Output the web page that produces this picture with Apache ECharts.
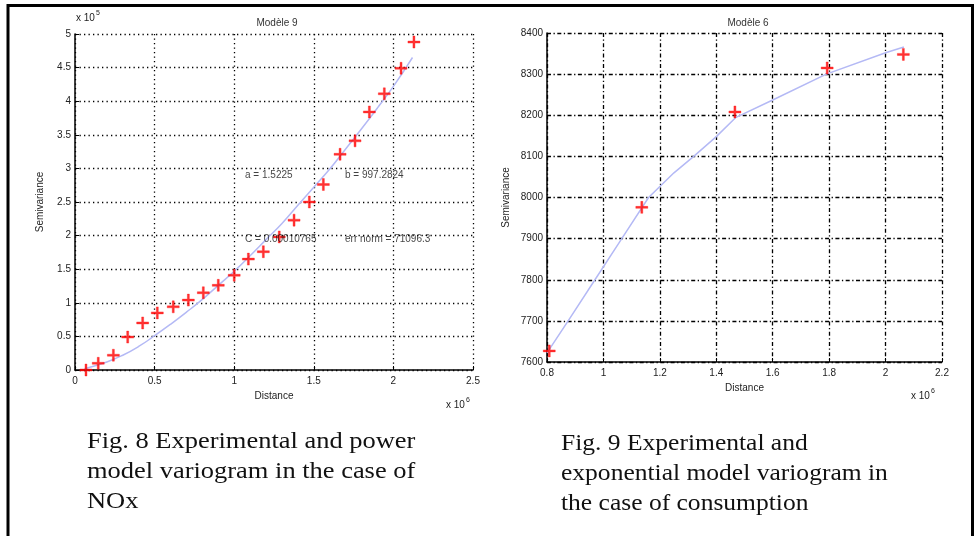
<!DOCTYPE html>
<html>
<head>
<meta charset="utf-8">
<script src="https://cdn.jsdelivr.net/npm/echarts@6/dist/echarts.min.js"></script>
<style>
html,body{margin:0;padding:0;background:#fff;}
#c{width:974px;height:536px;}
</style>
</head>
<body>
<div id="c"></div>
<script>
// ---- Fig. 8 : NOx, power model (distance x10^6, semivariance x10^5)
const noxDist = [0.069,0.146,0.241,0.331,0.425,0.517,0.617,0.712,0.806,0.900,1.000,1.089,1.183,1.283,1.376,1.472,1.560,1.665,1.759,1.849,1.943,2.048,2.129];
const noxSemi = [0.00,0.10,0.22,0.49,0.70,0.85,0.94,1.04,1.15,1.26,1.41,1.65,1.76,1.98,2.23,2.50,2.76,3.21,3.41,3.84,4.11,4.49,4.88];
const noxFitDist = [0.06,0.20,0.30,0.40,0.50,0.60,0.70,0.80,0.90,1.00,1.10,1.20,1.30,1.40,1.50,1.60,1.70,1.80,1.90,2.00,2.12];
const noxFitSemi = [0.02,0.12,0.22,0.35,0.51,0.68,0.86,1.05,1.26,1.47,1.70,1.94,2.18,2.45,2.72,2.99,3.29,3.59,3.90,4.22,4.65];
const noxNotes = ["a = 1.5225","b = 997.2824","C = 0.00010765","err norm = 71096.3"];
const noxNoteX = [1.068,1.696,1.068,1.696];
const noxNoteY = [2.90,2.90,1.95,1.95];

// ---- Fig. 9 : consumption, exponential model (distance x10^6)
const consDist = [0.808,1.136,1.466,1.793,2.063];
const consSemi = [7627,7976,8208,8315,8348];
const consFitDist = [0.800,0.875,0.970,1.065,1.160,1.250,1.320,1.400,1.470,1.600,1.790,2.000,2.065];
const consFitSemi = [7622,7700,7800,7900,8000,8060,8100,8148,8195,8237,8300,8352,8366];

const captionLeft = ["Fig. 8 Experimental and power","model variogram in the case of","NOx"];
const captionRight = ["Fig. 9 Experimental and","exponential model variogram in","the case of consumption"];

const zip = (a,b) => a.map((v,i)=>[v,b[i]]);
const plus = 'path://M5,0H7V5H12V7H7V12H5V7H0V5H5Z';
const lab = {color:'#222', fontFamily:'Liberation Sans, Arial, sans-serif', fontSize:10};

function xAx(grid,min,max,interval,dash,fmt){
  return {type:'value',gridIndex:grid,min,max,interval,
    name:'Distance',nameLocation:'middle',nameGap:21,
    nameTextStyle:Object.assign({},lab),
    axisLine:{show:true,onZero:false,lineStyle:{color:'#000',width:1.5}},
    axisTick:{show:true,inside:true,length:4,lineStyle:{color:'#000'}},
    axisLabel:Object.assign({margin:6,formatter:fmt},lab),
    splitLine:{show:true,showMinLine:true,showMaxLine:true,lineStyle:{color:'#000',type:dash,width:1.3}}};
}
function yAx(grid,min,max,interval,dash,gap,fmt){
  return {type:'value',gridIndex:grid,min,max,interval,
    name:'Semivariance',nameLocation:'middle',nameGap:gap,nameRotate:90,
    nameTextStyle:Object.assign({},lab),
    axisLine:{show:true,onZero:false,lineStyle:{color:'#000',width:1.5}},
    axisTick:{show:true,inside:true,length:4,lineStyle:{color:'#000'}},
    axisLabel:Object.assign({margin:4,formatter:fmt},lab),
    splitLine:{show:true,showMinLine:true,showMaxLine:true,lineStyle:{color:'#000',type:dash,width:1.3}}};
}
const dotted = [1.3,3.2];
const dashDot = [4,2.5,1.3,2.5];

const chart = echarts.init(document.getElementById('c'));
const capFont = '23px "Liberation Serif", "Times New Roman", serif';
const graphics = [
  {type:'polyline',shape:{points:[[8,545],[8,5.5],[972.5,5.5],[972.5,545]]},style:{stroke:'#000',lineWidth:3,fill:null}},
  {type:'text',left:76,top:13,style:{text:'x 10',fill:'#222',font:'10px "Liberation Sans", Arial'}},
  {type:'text',left:96,top:10,style:{text:'5',fill:'#222',font:'7px "Liberation Sans", Arial'}},
  {type:'text',left:446,top:400,style:{text:'x 10',fill:'#222',font:'10px "Liberation Sans", Arial'}},
  {type:'text',left:466,top:397,style:{text:'6',fill:'#222',font:'7px "Liberation Sans", Arial'}},
  {type:'text',left:911,top:391,style:{text:'x 10',fill:'#222',font:'10px "Liberation Sans", Arial'}},
  {type:'text',left:931,top:388,style:{text:'6',fill:'#222',font:'7px "Liberation Sans", Arial'}}
];
captionLeft.forEach((t,i)=>graphics.push({type:'text',x:87,y:430+i*30,scaleX:1.15,
  style:{text:t,x:0,y:0,fill:'#111',font:capFont,textVerticalAlign:'top'}}));
captionRight.forEach((t,i)=>graphics.push({type:'text',x:561,y:432+i*30,scaleX:1.11,
  style:{text:t,x:0,y:0,fill:'#111',font:capFont,textVerticalAlign:'top'}}));

chart.setOption({
  backgroundColor:'#fff',
  animation:false,
  title:[
    {text:'Modèle 9',left:272,top:13,textAlign:'center',textStyle:{color:'#333',fontSize:10,fontWeight:'normal',fontFamily:'Liberation Sans, Arial'}},
    {text:'Modèle 6',left:743,top:13,textAlign:'center',textStyle:{color:'#333',fontSize:10,fontWeight:'normal',fontFamily:'Liberation Sans, Arial'}}
  ],
  grid:[
    {left:75,top:34,width:398,height:336},
    {left:547,top:33,width:395,height:329}
  ],
  xAxis:[
    xAx(0,0,2.5,0.5,dotted,v=>String(v)),
    xAx(1,0.8,2.2,0.2,dashDot,v=>String(Math.round(v*10)/10))
  ],
  yAxis:[
    yAx(0,0,5,0.5,dotted,30,v=>String(v)),
    yAx(1,7600,8400,100,dashDot,36,v=>String(v))
  ],
  series:[
    {type:'line',xAxisIndex:0,yAxisIndex:0,data:zip(noxFitDist,noxFitSemi),showSymbol:false,smooth:true,
      lineStyle:{color:'#b4b9f5',width:1.5},z:2},
    {type:'scatter',xAxisIndex:0,yAxisIndex:0,data:zip(noxDist,noxSemi),symbol:plus,symbolSize:12,
      itemStyle:{color:'#ff0000',borderColor:'#ff0000',borderWidth:0.4},z:3},
    {type:'scatter',xAxisIndex:0,yAxisIndex:0,symbolSize:0,z:4,
      data:noxNotes.map((t,i)=>({value:[noxNoteX[i],noxNoteY[i]],name:t})),
      label:{show:true,position:'right',distance:0,formatter:p=>p.name,color:'#111',fontSize:10,
        fontFamily:'Liberation Sans, Arial'}},
    {type:'line',xAxisIndex:1,yAxisIndex:1,data:zip(consFitDist,consFitSemi),showSymbol:false,
      lineStyle:{color:'#b4b9f5',width:1.5},z:2},
    {type:'scatter',xAxisIndex:1,yAxisIndex:1,data:zip(consDist,consSemi),symbol:plus,symbolSize:12,
      itemStyle:{color:'#ff0000',borderColor:'#ff0000',borderWidth:0.4},z:3}
  ],
  graphic:graphics
});
</script>
</body>
</html>
